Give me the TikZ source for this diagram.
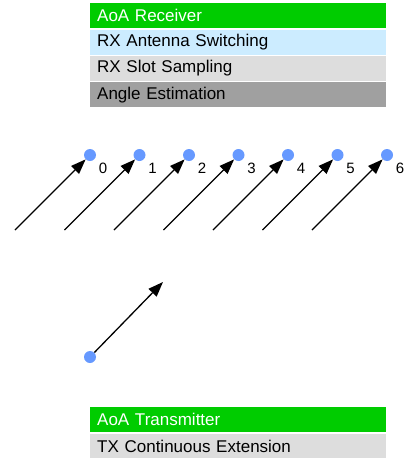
\documentclass[tikz,border=0pt]{standalone}
\usepackage{fontspec}
\setmainfont{Liberation Sans}
\usetikzlibrary{positioning,arrows.meta}
\definecolor{aoagreen}{HTML}{00CC00}
\definecolor{rxblue}{HTML}{CCECFF}
\definecolor{slotgray}{HTML}{DDDDDD}
\definecolor{anglegray}{HTML}{A0A0A0}
\definecolor{antblue}{HTML}{6699FF}
\begin{document}
\begin{tikzpicture}[x=1pt,y=-1pt,
    bar/.style={anchor=north west,minimum width=296pt,minimum height=25pt,
      text width=282pt,inner xsep=7pt,inner ysep=0pt,align=left,
      font=\fontsize{17pt}{20pt}\selectfont},
    antdot/.style={circle,fill=antblue,minimum size=12pt,inner sep=0pt},
    ray/.style={line width=1.3pt,-{Triangle[length=15pt,width=11pt]},shorten >=0pt}]
    \useasboundingbox (0,0) rectangle (404,458);
    % receiver
    \node[bar,fill=aoagreen,text=white] (rxhead) at (90,3) {AoA Receiver};
    \node[bar,fill=rxblue,below=1pt of rxhead] (rxswitch) {RX Antenna Switching};
    \node[bar,fill=slotgray,below=1pt of rxswitch] (rxslot) {RX Slot Sampling};
    \node[bar,fill=anglegray,below=1pt of rxslot] (rxangle) {Angle Estimation};
    % antenna array
    \foreach \i in {0,...,6} {
    \node[antdot] (ant\i) at (90+49.5*\i,155) {};
    \node[font=\fontsize{15pt}{18pt}\selectfont,inner sep=0pt] (lbl\i) at (103+49.5*\i,168) {\i};
    \coordinate (src\i) at (15+49.5*\i,230);
    \draw[ray] (src\i) -- (ant\i);
    }
    % transmitter
    \node[antdot] (txant) at (90,357) {};
    \coordinate (txaim) at (163,282);
    \draw[ray] (txant) -- (txaim);
    \node[bar,fill=aoagreen,text=white] (txhead) at (90,407) {AoA Transmitter};
    \node[bar,fill=slotgray,below=1pt of txhead] (txcte) {TX Continuous Extension};
  \end{tikzpicture}
\end{document}
